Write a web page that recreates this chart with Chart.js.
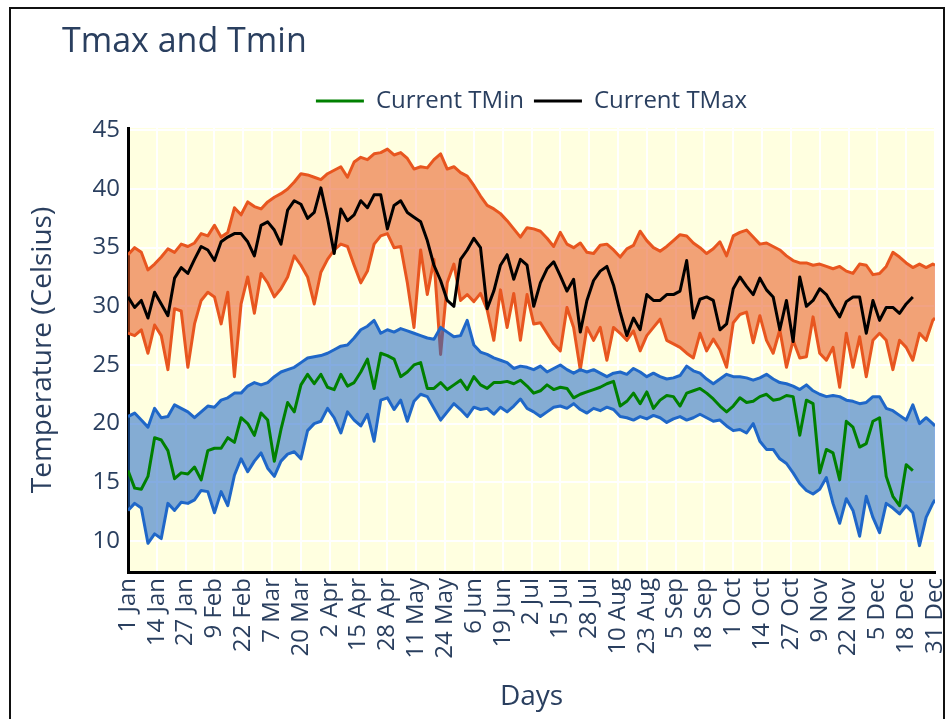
<!DOCTYPE html>
<html>
<head>
<meta charset="utf-8">
<title>Tmax and Tmin</title>
<script src="https://cdn.jsdelivr.net/npm/chart.js@4.4.1/dist/chart.umd.min.js"></script>
<style>
  html, body { margin:0; padding:0; background:#ffffff; }
  #wrap { position:relative; width:951px; height:719px; overflow:hidden; background:#fff; }
  #chart { position:absolute; left:0; top:0; }
  #frame { position:absolute; left:9px; top:7px; width:936px; height:760px; border:2px solid #111; box-sizing:border-box; pointer-events:none; }
  #title { position:absolute; left:62px; top:16px; font-family:'Open Sans', sans-serif; font-size:34px; color:#2a3f5f; white-space:nowrap; }
</style>
</head>
<body>
<div id="wrap">
  <canvas id="chart" width="951" height="719"></canvas>
  <div id="title">Tmax and Tmin</div>
  <div id="frame"></div>
</div>
<script>
// ---- data (day of year, 0 = 1 Jan) ----
const days = [
  0,3,6,9,12,15,18,21,24,27,
  30,33,36,39,42,45,48,51,54,57,
  60,63,66,69,72,75,78,81,84,87,
  90,93,96,99,102,105,108,111,114,117,
  120,123,126,129,132,135,138,141,144,147,
  150,153,156,159,162,165,168,171,174,177,
  180,183,186,189,192,195,198,201,204,207,
  210,213,216,219,222,225,228,231,234,237,
  240,243,246,249,252,255,258,261,264,267,
  270,273,276,279,282,285,288,291,294,297,
  300,303,306,309,312,315,318,321,324,327,
  330,333,336,339,342,345,348,351,354,357,
  360,363,364
];

const tickDays = [0,13,26,39,52,65,78,91,104,117,130,143,156,169,182,195,208,221,234,247,260,273,286,299,312,325,338,351,364];
const tickLabels = ['1 Jan','14 Jan','27 Jan','9 Feb','22 Feb','7 Mar','20 Mar','2 Apr','15 Apr','28 Apr','11 May','24 May','6 Jun','19 Jun','2 Jul','15 Jul','28 Jul','10 Aug','23 Aug','5 Sep','18 Sep','1 Oct','14 Oct','27 Oct','9 Nov','22 Nov','5 Dec','18 Dec','31 Dec'];
const yTicks = [10,15,20,25,30,35,40,45];

// historical Tmax envelope (upper / lower)
const tmaxHigh = [
  34.4,35.0,34.6,33.1,33.6,34.2,34.9,34.6,35.3,35.1,
  35.4,36.2,36.0,36.9,35.9,36.3,38.4,37.8,38.9,38.5,
  38.3,38.9,39.3,39.6,40.0,40.6,41.3,41.2,41.0,40.8,
  41.3,41.6,41.9,41.0,42.3,42.7,42.5,43.0,43.1,43.4,
  42.9,43.1,42.6,41.7,41.9,41.8,42.5,43.0,41.7,41.9,
  41.4,41.1,40.3,39.4,38.6,38.3,37.9,37.3,36.6,35.9,
  36.7,36.6,36.4,35.8,35.1,36.3,35.3,35.0,35.4,34.6,
  34.5,35.2,35.3,34.8,34.2,34.9,35.2,36.4,35.6,35.0,
  34.7,35.1,35.6,36.1,36.0,35.4,35.0,34.5,34.9,35.5,
  34.3,36.0,36.3,36.5,35.9,35.3,35.4,35.1,34.8,34.3,
  33.9,33.7,33.7,33.5,33.6,33.4,33.2,33.4,33.0,32.8,
  33.6,33.5,32.7,32.8,33.4,34.6,34.2,33.7,33.3,33.6,
  33.3,33.6,33.5
];
const tmaxLow = [
  27.7,27.5,28.0,26.0,28.4,27.5,24.6,29.8,29.6,24.8,
  28.5,30.5,31.2,30.8,28.5,31.2,24.0,30.2,32.5,29.4,
  32.8,32.0,30.8,31.5,32.5,34.3,33.5,32.5,30.2,32.9,
  34.0,34.8,35.3,35.1,33.5,32.0,33.0,35.3,36.0,36.2,
  35.0,35.1,32.0,28.2,34.8,31.0,34.0,25.9,32.0,33.6,
  30.5,31.0,30.4,31.1,29.7,27.1,31.4,28.2,31.1,27.1,
  31.0,28.5,28.6,27.7,26.8,26.2,29.9,28.2,24.6,28.2,
  27.1,28.2,25.4,28.2,27.7,27.1,27.9,26.2,27.5,28.2,
  28.9,27.1,26.8,26.5,26.0,25.6,27.7,26.2,27.2,26.3,
  24.8,28.6,29.3,29.5,26.9,29.2,27.1,26.0,28.0,24.8,
  27.1,25.6,25.7,29.1,26.0,25.4,26.5,23.1,27.7,24.8,
  27.4,24.0,27.1,27.7,27.1,24.6,27.1,26.5,25.4,27.7,
  27.1,28.8,29.0
];
// current year Tmax
const tmaxCur = [
  30.8,29.9,30.5,29.0,31.2,30.2,29.2,32.4,33.3,32.8,
  34.0,35.1,34.8,33.9,35.5,35.9,36.2,36.2,35.5,34.3,
  36.9,37.2,36.5,35.3,38.2,39.0,38.7,37.5,38.0,40.1,
  37.5,34.5,38.3,37.3,37.8,39.0,38.4,39.5,39.5,36.6,
  38.6,39.0,38.0,37.6,37.2,35.6,33.5,32.2,30.5,30.0,
  34.0,34.8,35.8,35.0,29.8,31.3,33.5,34.4,32.3,34.0,
  33.5,30.0,32.0,33.2,33.8,32.6,31.3,32.3,27.8,30.5,
  32.2,33.0,33.4,31.8,29.5,27.5,29.0,28.0,31.0,30.5,
  30.5,31.0,31.0,31.3,33.9,29.0,30.6,30.8,30.5,28.0,
  28.5,31.5,32.5,31.7,31.0,32.4,31.4,30.8,28.0,30.5,
  27.0,32.5,30.0,30.5,31.5,31.0,30.0,29.1,30.4,30.8,
  30.8,27.7,30.5,28.8,29.9,29.9,29.4,30.2,30.8,null,
  null,null,null
];

// historical Tmin envelope (upper / lower)
const tminHigh = [
  20.6,20.9,20.3,19.7,21.3,20.5,20.6,21.6,21.3,21.0,
  20.5,21.0,21.5,21.4,22.0,22.2,22.6,22.6,23.2,23.5,
  23.3,23.5,24.0,24.4,24.6,24.8,25.2,25.6,25.7,25.8,
  26.0,26.3,26.6,26.7,27.3,28.0,28.3,28.8,27.7,28.0,
  27.8,28.1,27.9,27.7,27.5,27.3,27.2,28.2,27.8,27.4,
  27.5,28.8,26.7,26.1,25.9,25.6,25.4,25.2,24.7,24.9,
  24.8,24.6,24.9,24.4,24.7,25.0,24.6,24.3,24.6,24.4,
  24.6,24.3,24.0,24.3,24.4,24.2,24.7,24.4,24.0,24.3,
  24.0,23.8,23.9,24.1,24.9,24.5,24.3,23.8,23.4,23.8,
  24.2,24.0,24.0,23.9,23.7,23.9,24.2,23.8,23.5,23.4,
  23.2,22.9,23.3,22.8,22.5,22.3,22.4,22.3,22.0,21.9,
  21.7,21.8,22.3,22.3,21.3,21.1,20.7,20.3,21.6,20.0,
  20.5,20.0,19.8
];
const tminLow = [
  12.6,13.2,12.8,9.8,10.6,10.2,13.2,12.6,13.3,13.2,
  13.5,14.3,14.2,12.4,14.2,13.0,15.6,17.0,15.9,16.8,
  17.5,16.2,15.5,16.8,17.4,17.6,17.0,19.4,20.0,20.2,
  21.3,20.5,19.2,21.0,20.3,19.8,20.8,18.5,22.0,22.2,
  21.2,22.0,20.2,21.9,22.5,22.3,21.3,20.3,21.0,21.7,
  21.2,20.6,21.4,21.2,21.3,20.8,21.4,21.0,21.5,22.1,
  21.3,21.0,20.6,21.0,21.4,21.5,21.3,21.7,21.2,20.9,
  21.3,21.1,21.4,21.2,20.6,20.5,20.3,20.6,20.4,20.7,
  20.5,20.1,20.4,20.6,20.3,20.5,20.8,20.5,20.2,20.3,
  19.8,19.4,19.5,19.2,20.0,18.5,17.8,17.8,17.0,16.6,
  15.8,14.9,14.3,14.0,14.4,15.4,13.2,11.5,13.6,12.6,
  10.4,13.8,12.0,10.7,13.2,12.8,12.3,13.0,12.4,9.6,
  12.0,13.2,13.5
];
// current year Tmin
const tminCur = [
  16.0,14.5,14.4,15.5,18.8,18.6,17.7,15.3,15.8,15.7,
  16.3,15.2,17.7,17.9,17.9,18.8,18.4,20.5,20.0,19.0,
  20.9,20.3,16.8,19.5,21.8,21.0,23.3,24.2,23.4,24.2,
  23.1,22.9,24.2,23.2,23.5,24.4,25.5,23.0,26.0,25.8,
  25.5,24.0,24.4,25.0,25.2,23.0,23.0,23.5,22.9,23.3,
  23.7,22.9,24.0,23.3,23.0,23.5,23.5,23.6,23.4,23.7,
  23.2,22.6,22.8,23.3,22.9,23.1,23.0,22.2,22.5,22.7,
  22.9,23.1,23.4,23.6,21.5,21.9,22.6,21.7,22.7,21.3,
  22.0,22.4,22.3,21.5,22.6,22.8,23.0,22.6,22.1,21.5,
  21.0,21.5,22.2,21.8,21.9,22.3,22.5,22.0,22.1,22.4,
  22.3,19.0,22.0,21.7,15.8,17.8,17.5,15.2,20.2,19.7,
  18.0,18.3,20.2,20.5,15.5,13.8,13.0,16.5,16.0,null,
  null,null,null
];

// ---- chart ----
const FONT = "'Open Sans', sans-serif";
const TEXT = '#2a3f5f';
const pts = arr => days.map((d, i) => ({ x: d, y: arr[i] }));

const orangeLine = '#e8561f', orangeFill = 'rgba(232,86,31,0.55)';
const blueLine = '#1f67c8', blueFill = 'rgba(31,103,200,0.55)';

const plotBg = {
  id: 'plotBg',
  beforeDraw(chart) {
    const { ctx, chartArea: a } = chart;
    ctx.save();
    ctx.fillStyle = '#ffffe0';
    ctx.fillRect(a.left, a.top, a.right - a.left, a.bottom - a.top);
    ctx.restore();
  }
};

const common = { pointRadius: 0, pointHoverRadius: 0, tension: 0, borderJoinStyle: 'round', borderWidth: 3 };

new Chart(document.getElementById('chart'), {
  type: 'line',
  data: {
    datasets: [
      Object.assign({ label: 'Current TMin', data: pts(tminCur), borderColor: '#008000', backgroundColor: '#008000', order: 0, pointStyle: 'line', fill: false }, common),
      Object.assign({ label: 'Current TMax', data: pts(tmaxCur), borderColor: '#000000', backgroundColor: '#000000', order: 0, pointStyle: 'line', fill: false }, common),
      Object.assign({ label: 'Tmax high', data: pts(tmaxHigh), borderColor: orangeLine, order: 2, fill: false }, common),
      Object.assign({ label: 'Tmax low', data: pts(tmaxLow), borderColor: orangeLine, backgroundColor: orangeFill, order: 2, fill: '-1' }, common),
      Object.assign({ label: 'Tmin high', data: pts(tminHigh), borderColor: blueLine, order: 1, fill: false }, common),
      Object.assign({ label: 'Tmin low', data: pts(tminLow), borderColor: blueLine, backgroundColor: blueFill, order: 1, fill: '-1' }, common)
    ]
  },
  options: {
    responsive: false,
    animation: false,
    events: [],
    layout: { padding: { top: 79, left: 0, right: 0, bottom: 0 } },
    plugins: {
      legend: {
        position: 'top',
        fullSize: false,
        align: 'center',
        labels: {
          usePointStyle: true,
          pointStyleWidth: 48,
          padding: 10,
          color: TEXT,
          font: { family: FONT, size: 24 },
          filter: item => item.datasetIndex < 2
        }
      },
      title: { display: true, text: '', weight: 500, fullSize: false, font: { size: 5, lineHeight: 1 }, padding: 0 },
      tooltip: { enabled: false }
    },
    scales: {
      x: {
        type: 'linear',
        min: 0,
        max: 364,
        afterBuildTicks: s => { s.ticks = tickDays.map(v => ({ value: v })); },
        afterFit: s => { s.height = 147; s.paddingLeft = 0; s.paddingRight = 16; },
        ticks: {
          autoSkip: false,
          maxRotation: 90,
          minRotation: 90,
          padding: 6,
          color: TEXT,
          font: { family: FONT, size: 24 },
          callback: v => tickLabels[tickDays.indexOf(v)]
        },
        grid: { color: '#ffffff', lineWidth: 2, drawTicks: false },
        border: { display: true, color: '#000000', width: 3 },
        title: { display: true, text: 'Days', color: TEXT, font: { family: FONT, size: 28 }, padding: { top: 0, bottom: 5 } }
      },
      y: {
        type: 'linear',
        min: 7.35,
        max: 45.2,
        afterBuildTicks: s => { s.ticks = yTicks.map(v => ({ value: v })); },
        afterFit: s => { s.width = 128; },
        ticks: { padding: 8, color: TEXT, font: { family: FONT, size: 24 } },
        grid: { color: '#ffffff', lineWidth: 2, drawTicks: false },
        border: { display: true, color: '#000000', width: 3 },
        title: { display: true, text: 'Temperature (Celsius)', color: TEXT, font: { family: FONT, size: 28 }, padding: { top: 26, bottom: 0 } }
      }
    }
  },
  plugins: [plotBg]
});
</script>
</body>
</html>
